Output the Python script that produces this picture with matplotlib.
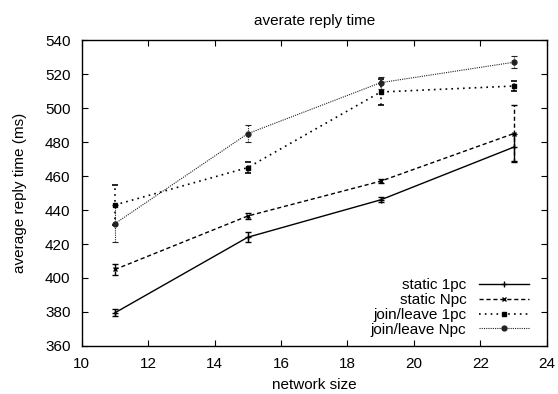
import matplotlib
matplotlib.use("Agg")
import matplotlib.pyplot as plt
from matplotlib.lines import Line2D

plt.rcParams['font.family'] = ['Liberation Sans', 'DejaVu Sans']

network_size = [11, 15, 19, 23]
labels = ["static 1pc", "static Npc", "join/leave 1pc", "join/leave Npc"]
static_1pc = [379.5, 424, 446, 477]
static_1pc_err = [2, 3, 1.5, 8]
static_npc = [405, 436.5, 457, 485]
static_npc_err = [3, 1.5, 1, 17]
jl_1pc = [443, 465, 509.5, 513]
jl_1pc_err = [12, 3, 7.5, 3]
jl_npc = [432, 485, 515, 527]
jl_npc_err = [11, 5, 3.5, 3.5]

series = [static_1pc, static_npc, jl_1pc, jl_npc]
errors = [static_1pc_err, static_npc_err, jl_1pc_err, jl_npc_err]
styles = [
    dict(ls='-', marker='+', ms=4, color='black', lw=1.0),
    dict(ls=(0, (3, 2)), marker='x', ms=3.5, color='black', lw=1.0),
    dict(ls=(0, (1, 2.5)), marker='s', ms=3.5, color='black', lw=1.2),
    dict(ls=(0, (1, 1)), marker='o', ms=3.5, color='#222222', lw=0.8),
]

fig = plt.figure(figsize=(5.58, 3.94), dpi=100)
ax = fig.add_axes([0.1464, 0.122, 0.8336, 0.776])

handles = []
for vals, errs, lab, st in zip(series, errors, labels, styles):
    cont = ax.errorbar(network_size, vals, yerr=errs,
                       linestyle=st['ls'], marker=st['marker'], ms=st['ms'],
                       color=st['color'], lw=st['lw'], capsize=2.5,
                       elinewidth=st['lw'], capthick=st['lw'],
                       mfc=st['color'], mec=st['color'])
    for bar in cont[2]:
        bar.set_linestyle(st['ls'])
    handles.append(Line2D([], [], linestyle=st['ls'], marker=st['marker'],
                          ms=st['ms'], color=st['color'], lw=st['lw'],
                          label=lab))

ax.set_xlim(10, 24)
ax.set_ylim(360, 540)
ax.set_xticks(range(10, 25, 2))
ax.set_yticks(range(360, 541, 20))
ax.tick_params(direction='in', top=True, right=True, labelsize=11, length=4, width=0.8)
ax.tick_params(axis='x', pad=8)
ax.tick_params(axis='y', pad=8)
for s in ax.spines.values():
    s.set_linewidth(1.0)

ax.set_title("averate reply time", fontsize=11, pad=11)
ax.set_xlabel("network size", fontsize=11)
ax.set_ylabel("average reply time (ms)", fontsize=11)
ax.xaxis.set_label_coords(0.5, -0.105)
ax.yaxis.set_label_coords(-0.118, 0.5)

leg = ax.legend(handles=handles, loc='lower right', bbox_to_anchor=(0.975, 0.01),
                frameon=False, markerfirst=False, fontsize=11, handlelength=3.3,
                handletextpad=0.8, labelspacing=0.05, borderaxespad=0)

fig.savefig("out.png", dpi=100)
